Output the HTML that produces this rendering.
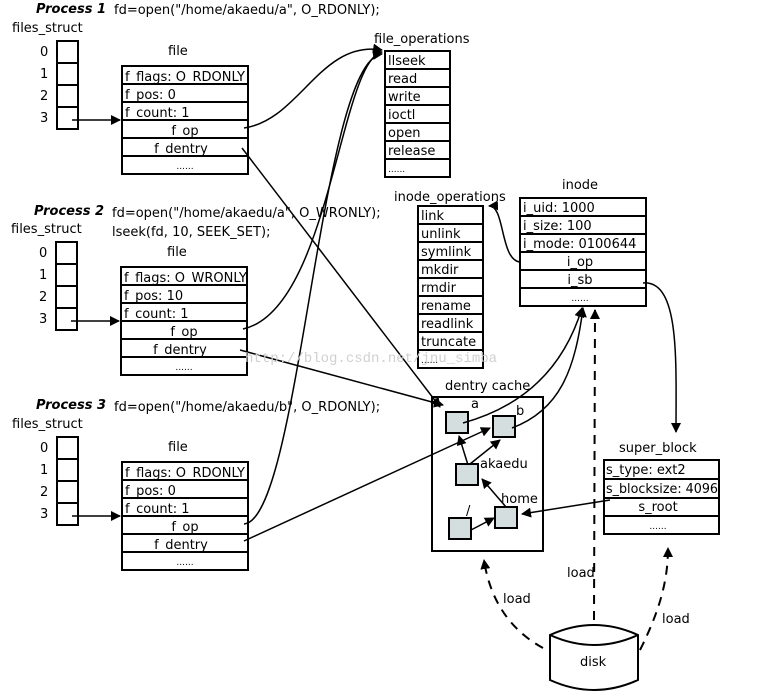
<!DOCTYPE html>
<html><head><meta charset="utf-8"><style>
body{margin:0;background:#fff;}
svg{display:block;font-family:"DejaVu Sans","Liberation Sans",sans-serif;}
</style></head><body>
<svg width="771" height="697" viewBox="0 0 771 697" xmlns="http://www.w3.org/2000/svg" font-size="13">
<defs>
<marker id="ar" markerWidth="10" markerHeight="10" refX="9" refY="5" orient="auto" markerUnits="userSpaceOnUse"><path d="M0,0 L10,5 L0,10 z" fill="#000"/></marker>
<g id="proc">
  <text x="12" y="32">files_struct</text>
  <g><text x="40" y="56">0</text><text x="40" y="78">1</text><text x="40" y="100">2</text><text x="40" y="122">3</text></g>
  <g fill="none" stroke="#000" stroke-width="2">
    <rect x="57" y="41" width="21" height="88"/>
    <line x1="57" y1="63" x2="78" y2="63"/><line x1="57" y1="85" x2="78" y2="85"/><line x1="57" y1="107" x2="78" y2="107"/>
    <rect x="122" y="66" width="126" height="108"/>
    <line x1="122" y1="84" x2="248" y2="84"/><line x1="122" y1="102" x2="248" y2="102"/><line x1="122" y1="120" x2="248" y2="120"/><line x1="122" y1="138" x2="248" y2="138"/><line x1="122" y1="156" x2="248" y2="156"/>
  </g>
  <line x1="72" y1="120" x2="120" y2="120" stroke="#000" stroke-width="1.5" marker-end="url(#ar)"/>
  <text x="168" y="55">file</text>
  <g><text x="125" y="99">f_pos: 0</text><text x="125" y="117">f_count: 1</text>
  <text x="185" y="135" text-anchor="middle">f_op</text><text x="181" y="153" text-anchor="middle">f_dentry</text>
  <text x="185" y="169" text-anchor="middle" font-size="9">......</text></g>
</g>
</defs>

<text x="36" y="13" font-weight="bold" font-style="italic">Process 1</text>
<text x="114" y="14">fd=open("/home/akaedu/a", O_RDONLY);</text>
<use href="#proc"/>
<text x="125" y="81">f_flags: O_RDONLY</text>

<text x="34" y="215" font-weight="bold" font-style="italic">Process 2</text>
<text x="112" y="217">fd=open("/home/akaedu/a", O_WRONLY);</text>
<text x="112" y="236">lseek(fd, 10, SEEK_SET);</text>
<g transform="translate(-1,201)"><use href="#proc"/></g>
<rect x="122" y="287" width="60" height="14" fill="#fff"/>
<text x="124" y="282">f_flags: O_WRONLY</text>
<text x="124" y="300">f_pos: 10</text>

<text x="36" y="409" font-weight="bold" font-style="italic">Process 3</text>
<text x="114" y="411">fd=open("/home/akaedu/b", O_RDONLY);</text>
<g transform="translate(0,396)"><use href="#proc"/></g>
<text x="125" y="477">f_flags: O_RDONLY</text>

<text x="374" y="43">file_operations</text>
<g fill="none" stroke="#000" stroke-width="2">
<rect x="385" y="51" width="65" height="126"/>
<line x1="385" y1="69" x2="450" y2="69"/><line x1="385" y1="87" x2="450" y2="87"/><line x1="385" y1="105" x2="450" y2="105"/><line x1="385" y1="123" x2="450" y2="123"/><line x1="385" y1="141" x2="450" y2="141"/><line x1="385" y1="159" x2="450" y2="159"/>
</g>
<g><text x="388" y="65">llseek</text><text x="388" y="83">read</text><text x="388" y="101">write</text><text x="388" y="119">ioctl</text><text x="388" y="137">open</text><text x="388" y="155">release</text><text x="388" y="172" font-size="9">......</text></g>

<text x="394" y="201">inode_operations</text>
<g fill="none" stroke="#000" stroke-width="2">
<rect x="418" y="206" width="65" height="162"/>
<line x1="418" y1="224" x2="483" y2="224"/><line x1="418" y1="242" x2="483" y2="242"/><line x1="418" y1="260" x2="483" y2="260"/><line x1="418" y1="278" x2="483" y2="278"/><line x1="418" y1="296" x2="483" y2="296"/><line x1="418" y1="314" x2="483" y2="314"/><line x1="418" y1="332" x2="483" y2="332"/><line x1="418" y1="350" x2="483" y2="350"/>
</g>
<g><text x="421" y="220">link</text><text x="421" y="238">unlink</text><text x="421" y="256">symlink</text><text x="421" y="274">mkdir</text><text x="421" y="292">rmdir</text><text x="421" y="310">rename</text><text x="421" y="328">readlink</text><text x="421" y="346">truncate</text><text x="421" y="363" font-size="9">......</text></g>

<text x="562" y="189">inode</text>
<g fill="none" stroke="#000" stroke-width="2">
<rect x="520" y="198" width="126" height="108"/>
<line x1="520" y1="216" x2="646" y2="216"/><line x1="520" y1="234" x2="646" y2="234"/><line x1="520" y1="252" x2="646" y2="252"/><line x1="520" y1="270" x2="646" y2="270"/><line x1="520" y1="288" x2="646" y2="288"/>
</g>
<g><text x="523" y="212">i_uid: 1000</text><text x="523" y="230">i_size: 100</text><text x="523" y="248">i_mode: 0100644</text>
<text x="580" y="266" text-anchor="middle">i_op</text><text x="580" y="284" text-anchor="middle">i_sb</text><text x="580" y="301" text-anchor="middle" font-size="9">......</text></g>

<text x="445" y="390">dentry cache</text>
<rect x="432" y="397" width="111" height="154" fill="none" stroke="#000" stroke-width="2"/>
<g fill="#d4dedf" stroke="#000" stroke-width="2">
<rect x="446" y="412" width="22" height="21"/><rect x="493" y="416" width="22" height="21"/><rect x="456" y="464" width="22" height="21"/><rect x="495" y="507" width="22" height="21"/><rect x="449" y="518" width="22" height="21"/>
</g>
<g><text x="471" y="408">a</text><text x="516" y="415">b</text><text x="480" y="468">akaedu</text><text x="501" y="503">home</text><text x="466" y="515">/</text></g>
<g stroke="#000" stroke-width="1.5" marker-end="url(#ar)">
<line x1="471" y1="530" x2="494" y2="518"/>
<line x1="506" y1="507" x2="482" y2="479"/>
<line x1="468" y1="465" x2="459" y2="436"/>
<line x1="470" y1="464" x2="500" y2="440"/>
</g>

<text x="619" y="452">super_block</text>
<g fill="none" stroke="#000" stroke-width="2">
<rect x="604" y="460" width="115" height="74"/>
<line x1="604" y1="479" x2="719" y2="479"/><line x1="604" y1="498" x2="719" y2="498"/><line x1="604" y1="516" x2="719" y2="516"/>
</g>
<g><text x="606" y="474">s_type: ext2</text><text x="606" y="493" textLength="112" lengthAdjust="spacingAndGlyphs">s_blocksize: 4096</text><text x="658" y="511" text-anchor="middle">s_root</text><text x="658" y="529" text-anchor="middle" font-size="9">......</text></g>

<path d="M550,635 Q594,615 638,635 L638,680 Q594,700 550,680 Z" fill="#fff" stroke="#000" stroke-width="2"/>
<path d="M550,635 Q594,655 638,635" fill="none" stroke="#000" stroke-width="2"/>
<text x="580" y="666">disk</text>

<g fill="none" stroke="#000" stroke-width="1.5" marker-end="url(#ar)">
<path d="M244,128 C300,120 320,40 382,50"/>
<path d="M243,329 C330,310 340,60 382,52"/>
<path d="M244,524 C300,520 320,60 382,54"/>
<path d="M242,148 L440,407"/>
<path d="M240,350 L443,405"/>
<path d="M244,541 L490,428"/>
<path d="M520,262 C500,260 505,205 489,206"/>
<path d="M643,283 C680,280 676,360 676,432"/>
<path d="M610,500 L522,514"/>
<path d="M463,423 C510,410 560,380 582,308"/>
<path d="M512,428 C560,410 575,370 583,308"/>
</g>
<g fill="none" stroke="#000" stroke-width="2" stroke-dasharray="9,7">
<path d="M594,620 L595,310" marker-end="url(#ar)"/>
<path d="M543,648 C510,630 490,600 484,560" marker-end="url(#ar)"/>
<path d="M640,650 C660,610 668,580 668,548" marker-end="url(#ar)"/>
</g>
<g><text x="503" y="603">load</text><text x="567" y="577">load</text><text x="662" y="623">load</text></g>

<text x="245" y="362" font-size="14" fill="#d0d0d0" font-family="Liberation Mono, monospace">http://blog.csdn.net/jnu_simba</text>
</svg>
</body></html>
